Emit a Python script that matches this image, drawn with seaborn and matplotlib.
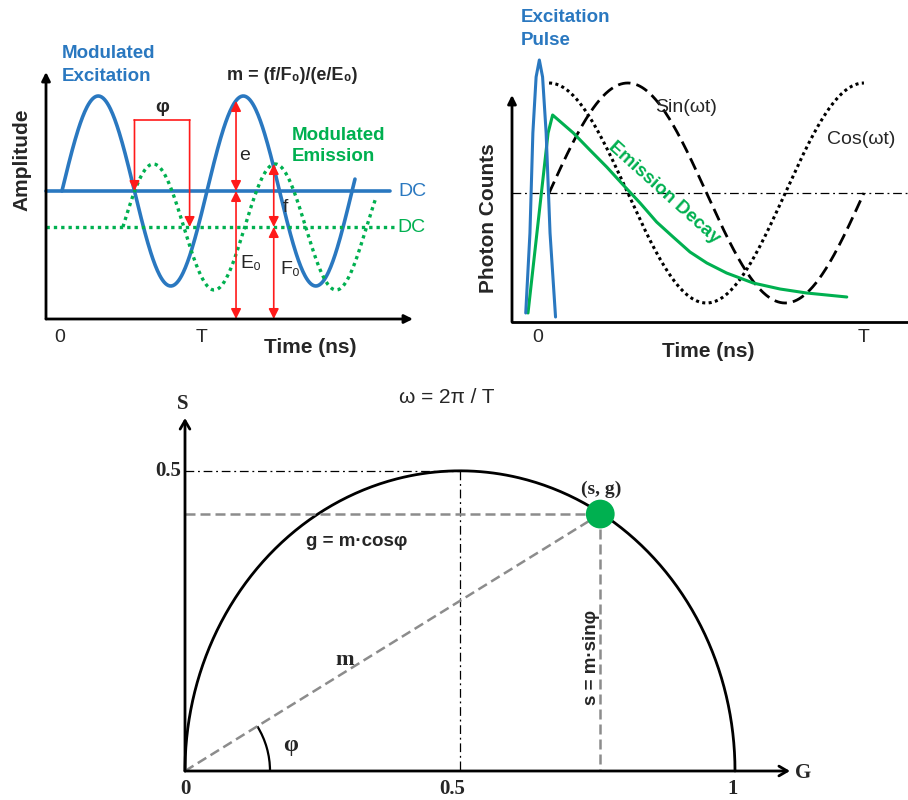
import numpy as np
import matplotlib
matplotlib.use("Agg")
import matplotlib.pyplot as plt
import seaborn as sns
from matplotlib.patches import Arc

sns.set_style("white")
plt.rcParams['font.family'] = ['Liberation Sans', 'DejaVu Sans']

BLUE = '#2a78c0'
GREEN = '#00b050'
RED = '#ff1a1a'
GREY = '#8c8c8c'

# ---- top left: modulated excitation / emission (t in periods, y in a.u.)
exc_dc, exc_amp, exc_period, exc_end = 1.28, 0.95, 1.0, 2.02
emi_dc, emi_amp, emi_period, emi_start, emi_end = 0.92, 0.63, 0.84, 0.42, 2.16
phi_x = [0.50, 0.88]          # zero crossings used for the phase bracket
phi_top = 1.99
e_x, e_top = 1.20, 2.18       # e / E0 arrows
f_x, f_top = 1.46, 1.55       # f / F0 arrows

# ---- top right: pulse, emission decay, sin / cos reference
pulse_t = [-0.044, -0.031, -0.022, -0.012, -0.002, 0.008, 0.019, 0.031, 0.048]
pulse_y = [0.09, 0.89, 1.89, 2.45, 2.62, 2.45, 1.89, 0.89, 0.05]
decay_t = [-0.037, 0.025, 0.039, 0.103, 0.154, 0.206, 0.257, 0.309, 0.360,
           0.411, 0.463, 0.515, 0.576, 0.658, 0.741, 0.823, 0.947]
decay_y = [0.09, 1.89, 2.07, 1.89, 1.72, 1.55, 1.37, 1.19, 1.00,
           0.85, 0.70, 0.59, 0.49, 0.39, 0.33, 0.29, 0.25]
ref_mean, ref_amp, ref_start, ref_end = 1.29, 1.10, 0.028, 1.0

# ---- bottom: phasor plot
g_pt, s_pt = 0.755, 0.428

W, H = 908, 800
fig = plt.figure(figsize=(W / 100, H / 100), dpi=100)


def box(x0, y0, x1, y1):
    return [x0 / W, 1 - y1 / H, (x1 - x0) / W, (y1 - y0) / H]


def ftext(x, y, s, **kw):
    kw.setdefault('ha', 'center')
    kw.setdefault('va', 'center')
    fig.text(x / W, 1 - y / H, s, **kw)


def arrow(ax, start, tip, style='-|>,head_length=0.6,head_width=0.3', lw=2, color='k'):
    ax.annotate('', xy=tip, xytext=start, xycoords='data',
                arrowprops=dict(arrowstyle=style, lw=lw, color=color,
                                shrinkA=0, shrinkB=0),
                annotation_clip=False)


def line(ax, x, y, **kw):
    sns.lineplot(x=np.asarray(x), y=np.asarray(y), ax=ax, estimator=None,
                 sort=False, legend=False, clip_on=False, **kw)


# ================= top left =================
ax1 = fig.add_axes(box(46, 72, 413, 319))
ax1.set_xlim(-0.11, 2.42)
ax1.set_ylim(0, 2.47)
ax1.set_axis_off()

t = np.linspace(0, exc_end, 400)
line(ax1, t, exc_dc + exc_amp * np.sin(2 * np.pi * t / exc_period), color=BLUE, lw=2.6)
line(ax1, [-0.11, 2.26], [exc_dc, exc_dc], color=BLUE, lw=2.6)

te = np.linspace(emi_start, emi_end, 400)
line(ax1, te, emi_dc + emi_amp * np.sin(2 * np.pi * (te - emi_start) / emi_period),
     color=GREEN, lw=2.4, linestyle=(0, (1, 1.2)))
line(ax1, [-0.11, 2.30], [emi_dc, emi_dc], color=GREEN, lw=2.4, linestyle=(0, (1, 1.2)))

red_head = '-|>,head_length=0.6,head_width=0.3'
dbl_head = '<|-|>,head_length=0.6,head_width=0.3'
line(ax1, phi_x, [phi_top, phi_top], color=RED, lw=1.2)
arrow(ax1, (phi_x[0], phi_top), (phi_x[0], exc_dc), red_head, 1.2, RED)
arrow(ax1, (phi_x[1], phi_top), (phi_x[1], emi_dc), red_head, 1.2, RED)
arrow(ax1, (e_x, exc_dc), (e_x, e_top), dbl_head, 1.2, RED)
arrow(ax1, (e_x, 0), (e_x, exc_dc), dbl_head, 1.2, RED)
arrow(ax1, (f_x, emi_dc), (f_x, f_top), dbl_head, 1.2, RED)
arrow(ax1, (f_x, 0), (f_x, emi_dc), dbl_head, 1.2, RED)

arrow(ax1, (-0.11, 0), (-0.11, 2.47), '-|>,head_length=0.5,head_width=0.25', 2)
arrow(ax1, (-0.11, 0), (2.42, 0), '-|>,head_length=0.5,head_width=0.25', 2)

ftext(62, 65, 'Modulated\nExcitation', ha='left', color=BLUE, fontsize=13.5,
      fontweight='bold', linespacing=1.4)
ftext(292, 76, 'm = (f/F₀)/(e/E₀)', fontsize=13, fontweight='bold')
ftext(162, 107, 'φ', fontsize=14, fontweight='bold')
ftext(292, 146, 'Modulated\nEmission', ha='left', color=GREEN, fontsize=13.5,
      fontweight='bold', linespacing=1.35)
ftext(398, 191, 'DC', ha='left', color=BLUE, fontsize=14)
ftext(397, 227, 'DC', ha='left', color=GREEN, fontsize=14)
ftext(245, 155, 'e', fontsize=14)
ftext(285, 207, 'f', fontsize=14)
ftext(251, 263, 'E₀', fontsize=14)
ftext(290, 270, 'F₀', fontsize=14)
ftext(22, 160, 'Amplitude', rotation=90, fontsize=15, fontweight='bold')
ftext(60, 338, '0', fontsize=14)
ftext(202, 337, 'T', fontsize=14)
ftext(310, 347, 'Time (ns)', fontsize=15, fontweight='bold')

# ================= top right =================
ax2 = fig.add_axes(box(512, 40, 908, 322))
ax2.set_xlim(-0.0864, 1.136)
ax2.set_ylim(0, 2.82)
ax2.set_axis_off()

tr = np.linspace(ref_start, ref_end, 400)
ph = 2 * np.pi * (tr - ref_start) / (ref_end - ref_start)
line(ax2, [-0.0864, 1.136], [ref_mean, ref_mean], color='k', lw=0.9,
     linestyle=(0, (7, 3, 1.5, 3)))
line(ax2, tr, ref_mean + ref_amp * np.cos(ph), color='k', lw=2.2, linestyle=(0, (1, 1.1)))
line(ax2, tr, ref_mean + ref_amp * np.sin(ph), color='k', lw=2.0, linestyle=(0, (4.5, 2.2)))
line(ax2, decay_t, decay_y, color=GREEN, lw=2.2)
line(ax2, pulse_t, pulse_y, color=BLUE, lw=2.2)

arrow(ax2, (-0.0864, 0), (-0.0864, 2.27), '-|>,head_length=0.5,head_width=0.25', 2)
line(ax2, [-0.0864, 1.136], [0, 0], color='k', lw=2)

ftext(521, 29, 'Excitation\nPulse', ha='left', color=BLUE, fontsize=13.5,
      fontweight='bold', linespacing=1.4)
ftext(686, 107, 'Sin(ωt)', fontsize=14)
ftext(861, 139, 'Cos(ωt)', fontsize=14)
ftext(664, 193, 'Emission Decay', rotation=-42, color=GREEN, fontsize=13.5,
      fontweight='bold', rotation_mode='anchor')
ftext(489, 218, 'Photon Counts', rotation=90, fontsize=15, fontweight='bold')
ftext(538, 337, '0', fontsize=14)
ftext(864, 337, 'T', fontsize=14)
ftext(708, 352, 'Time (ns)', fontsize=15, fontweight='bold')

# ================= bottom =================
ax3 = fig.add_axes(box(185, 418, 790, 771))
ax3.set_xlim(0, 1.1)
ax3.set_ylim(0, 0.588)
ax3.set_axis_off()

th = np.linspace(0, np.pi, 400)
line(ax3, 0.5 + 0.5 * np.cos(th), 0.5 * np.sin(th), color='k', lw=2)
line(ax3, [0, 0.5], [0.5, 0.5], color='k', lw=0.9, linestyle=(0, (7, 3, 1.5, 3)))
line(ax3, [0.5, 0.5], [0.5, 0], color='k', lw=0.9, linestyle=(0, (7, 3, 1.5, 3)))
line(ax3, [0, g_pt], [s_pt, s_pt], color=GREY, lw=1.8, linestyle=(0, (4, 2)))
line(ax3, [g_pt, g_pt], [s_pt, 0], color=GREY, lw=1.8, linestyle=(0, (4, 2)))
line(ax3, [0, g_pt], [0, s_pt], color=GREY, lw=1.8, linestyle=(0, (4, 2)))
sns.scatterplot(x=[g_pt], y=[s_pt], ax=ax3, s=430, color=GREEN, edgecolor='none',
                zorder=5, legend=False)
ax3.add_patch(Arc((0, 0), 2 * 85 / 550, 2 * 85 / 600, theta1=0,
                  theta2=np.degrees(np.arctan2(s_pt, g_pt)), lw=1.6, color='k'))
arrow(ax3, (0, 0), (1.1, 0), '->,head_length=0.6,head_width=0.35', 2)
arrow(ax3, (0, 0), (0, 0.588), '->,head_length=0.6,head_width=0.35', 2)

serif = dict(family='Liberation Serif', fontweight='bold')
ftext(447, 397, 'ω = 2π / T', fontsize=15)
ftext(183, 404, 'S', fontsize=15, **serif)
ftext(803, 773, 'G', fontsize=15, **serif)
ftext(181, 471, '0.5', ha='right', fontsize=15, **serif)
ftext(185, 789, '0', fontsize=15, **serif)
ftext(452, 789, '0.5', fontsize=15, **serif)
ftext(733, 789, '1', fontsize=15, **serif)
ftext(601, 489, '(s, g)', fontsize=14, **serif)
ftext(357, 541, 'g = m·cosφ', fontsize=13.5, fontweight='bold')
ftext(345, 660, 'm', fontsize=16, **serif)
ftext(291, 745, 'φ', fontsize=17, **serif)
ftext(592, 657, 's = m·sinφ', rotation=90, fontsize=13.5, fontweight='bold')

fig.savefig('out.png', dpi=100)
